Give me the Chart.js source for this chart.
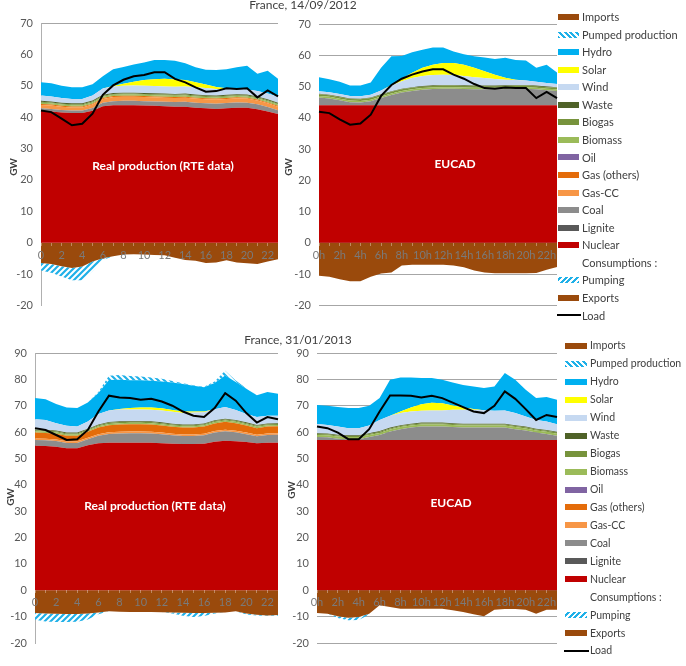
<!DOCTYPE html>
<html>
<head>
<meta charset="utf-8">
<script src="https://cdn.jsdelivr.net/npm/chart.js@4/dist/chart.umd.min.js"></script>
<style>
  body { margin: 0; background: #fff; width: 686px; height: 666px; overflow: hidden; position: relative; font-family: Lato, "Liberation Sans", sans-serif; }
  .box { position: absolute; }
  .title { position: absolute; font-size: 12px; color: #404040; white-space: nowrap; transform: translate(-50%, -50%); }
  .gw { position: absolute; font-size: 10px; font-weight: bold; color: #404040; transform: translate(-50%, -50%) rotate(-90deg); }
  .tag { position: absolute; color: #fff; font-weight: bold; font-size: 12px; white-space: nowrap; transform: translate(-50%, -50%); }
  .leg { position: absolute; color: #404040; white-space: nowrap; }
  .sw { position: absolute; }
</style>
</head>
<body>

<div class="box" style="left:0;top:0"><canvas id="c1" width="285" height="320"></canvas></div>
<div class="box" style="left:285px;top:0"><canvas id="c2" width="275" height="320"></canvas></div>
<div class="box" style="left:0;top:330px"><canvas id="c3" width="285" height="330"></canvas></div>
<div class="box" style="left:285px;top:330px"><canvas id="c4" width="275" height="330"></canvas></div>

<div class="title" style="left:303px;top:4px">France, 14/09/2012</div>
<div class="title" style="left:298px;top:339px">France, 31/01/2013</div>

<div class="gw" style="left:13px;top:167px">GW</div>
<div class="gw" style="left:288px;top:167px">GW</div>
<div class="gw" style="left:10px;top:497px">GW</div>
<div class="gw" style="left:291px;top:490px">GW</div>

<div class="tag" style="left:163px;top:165px">Real production (RTE data)</div>
<div class="tag" style="left:455px;top:163px">EUCAD</div>
<div class="tag" style="left:155px;top:505px">Real production (RTE data)</div>
<div class="tag" style="left:451px;top:502px">EUCAD</div>

<div id="legends"></div>

<script>
/* ================= DATA ================= */
const hoursReal = ["0","1","2","3","4","5","6","7","8","9","10","11","12","13","14","15","16","17","18","19","20","21","22","23"];
const hoursModel = ["0h","1h","2h","3h","4h","5h","6h","7h","8h","9h","10h","11h","12h","13h","14h","15h","16h","17h","18h","19h","20h","21h","22h","23h"];

const noFlow = [0,0,0,0,0,0,0,0,0,0,0,0,0,0,0,0,0,0,0,0,0,0,0,0];

/* France 14/09/2012 - real production (RTE) */
const sepRealNuclear = [42.0,41.8,41.5,41.3,41.3,42.0,43.5,43.8,43.8,43.8,43.7,43.6,43.5,43.3,43.3,43.0,42.8,42.6,42.8,43.0,43.0,42.5,41.8,41.0];
const sepRealCoal    = [0.8,0.8,0.8,0.8,0.8,0.9,1.1,1.3,1.4,1.4,1.4,1.4,1.4,1.5,1.6,1.6,1.6,1.7,1.7,1.7,1.6,1.6,1.4,1.2];
const sepRealGasCC   = [1.1,1.1,1.0,1.0,1.0,1.1,1.2,1.3,1.3,1.3,1.3,1.3,1.3,1.3,1.3,1.3,1.3,1.3,1.3,1.3,1.3,1.2,1.2,1.1];
const sepRealGasOth  = [0.3,0.3,0.3,0.3,0.3,0.3,0.3,0.3,0.3,0.3,0.3,0.3,0.3,0.3,0.3,0.3,0.3,0.3,0.3,0.3,0.3,0.3,0.3,0.3];
const sepRealBiomass = [0.4,0.4,0.4,0.4,0.4,0.4,0.4,0.4,0.4,0.4,0.4,0.4,0.4,0.4,0.4,0.4,0.4,0.4,0.4,0.4,0.4,0.4,0.4,0.4];
const sepRealBiogas  = [0.3,0.3,0.3,0.3,0.3,0.3,0.3,0.3,0.3,0.3,0.3,0.3,0.3,0.3,0.3,0.3,0.3,0.3,0.3,0.3,0.3,0.3,0.3,0.3];
const sepRealWaste   = [0.3,0.3,0.3,0.3,0.3,0.3,0.3,0.3,0.3,0.3,0.3,0.3,0.3,0.3,0.3,0.3,0.3,0.3,0.3,0.3,0.3,0.3,0.3,0.3];
const sepRealWind    = [1.7,1.6,1.5,1.4,1.4,1.6,2.0,2.1,2.2,2.3,2.3,2.3,2.3,2.3,2.3,2.3,2.3,2.1,1.9,1.8,1.6,1.7,1.8,1.9];
const sepRealSolar   = [0,0,0,0,0,0,0,0.1,0.6,1.2,1.8,2.2,2.4,2.3,2.0,1.6,1.1,0.6,0.2,0,0,0,0,0];
const sepRealHydro   = [4.2,4.2,3.9,3.7,3.7,3.6,3.9,5.4,5.4,5.5,5.6,6.1,6.0,6.0,5.4,4.8,4.7,5.4,6.1,6.8,7.6,5.5,7.3,5.7];
const sepRealExports = [-6.5,-6.8,-7.5,-8.1,-7.6,-6.0,-5.0,-4.3,-3.8,-3.7,-3.8,-3.9,-4.0,-4.8,-5.5,-5.8,-6.5,-6.3,-5.6,-6.3,-6.6,-6.8,-6.0,-5.3];
const sepRealPumping = [-2.4,-2.8,-3.3,-3.9,-4.4,-3.2,-0.5,0,0,0,0,0,0,0,0,0,0,0,0,0,0,0,0,0];
const sepRealLoad    = [42.1,41.6,39.5,37.4,37.9,41.1,47.1,50.1,51.9,53.0,53.4,54.3,54.3,52.2,51.1,49.5,48.1,48.3,49.2,49.0,49.2,46.3,48.5,46.6];

/* France 14/09/2012 - EUCAD */
const sepModNuclear = [44,44,44,44,44,44,44,44,44,44,44,44,44,44,44,44,44,44,44,44,44,44,44,44];
const sepModCoal    = [2.5,2.2,1.6,1.0,0.9,1.3,2.3,3.3,4.1,4.6,5.0,5.2,5.3,5.3,5.2,5.1,5.1,5.1,5.2,5.3,5.3,5.1,4.8,4.6];
const sepModBiomass = [0.5,0.5,0.5,0.5,0.5,0.5,0.5,0.5,0.5,0.5,0.5,0.5,0.5,0.5,0.5,0.5,0.5,0.5,0.5,0.5,0.5,0.5,0.5,0.5];
const sepModBiogas  = [0.5,0.5,0.5,0.5,0.5,0.5,0.5,0.5,0.5,0.5,0.5,0.5,0.5,0.5,0.5,0.5,0.5,0.5,0.5,0.5,0.5,0.5,0.5,0.5];
const sepModWaste   = [0.2,0.2,0.2,0.2,0.2,0.2,0.2,0.2,0.2,0.2,0.2,0.2,0.2,0.2,0.2,0.2,0.2,0.2,0.2,0.2,0.2,0.2,0.2,0.2];
const sepModWind    = [0.8,0.8,0.8,0.8,0.8,0.9,1.2,1.8,2.4,2.9,3.2,3.3,3.3,3.2,3.0,2.7,2.4,2.1,1.8,1.6,1.4,1.2,1.1,1.0];
const sepModSolar   = [0,0,0,0,0,0,0,0.2,0.8,1.7,2.6,3.3,3.7,3.8,3.6,3.0,2.2,1.4,0.6,0.1,0,0,0,0];
const sepModHydro   = [4.5,4.1,3.9,3.3,3.4,3.9,7.3,9.2,7.3,6.6,5.8,5.5,5.0,3.7,3.3,3.7,4.4,5.0,6.4,6.3,6.4,4.5,5.9,3.7];
const sepModExports = [-10.5,-10.8,-11.6,-12.3,-12.3,-10.8,-9.8,-9.5,-7.2,-7.0,-7.0,-7.0,-7.0,-7.2,-7.8,-8.8,-9.5,-9.7,-9.7,-9.7,-9.7,-9.6,-8.6,-7.7];
const sepModLoad    = [41.9,41.5,39.5,37.8,38.2,41.0,47.0,50.5,52.5,53.8,54.8,55.5,55.5,53.8,52.5,50.8,49.5,49.3,49.7,49.5,49.5,46.3,48.3,46.3];

/* France 31/01/2013 - real production (RTE) */
const janRealNuclear = [54.8,54.7,54.4,53.9,53.9,55.0,55.8,56.0,56.0,56.0,56.0,56.0,55.8,55.6,55.5,55.5,55.6,56.3,56.7,56.5,56.2,55.8,56.0,56.0];
const janRealCoal    = [2.2,2.2,2.2,2.0,2.0,2.3,2.8,3.3,3.5,3.6,3.6,3.5,3.4,3.2,3.0,3.0,3.2,3.5,3.6,3.4,3.0,2.6,2.9,3.0];
const janRealGasCC   = [0.6,0.6,0.6,0.6,0.6,0.6,0.6,0.6,0.6,0.6,0.6,0.6,0.6,0.6,0.6,0.6,0.6,0.6,0.6,0.6,0.6,0.6,0.6,0.6];
const janRealGasOth  = [2.2,2.2,2.2,2.1,2.1,2.2,2.5,2.7,2.8,2.8,2.8,2.8,2.7,2.6,2.6,2.6,2.7,2.9,3.0,2.9,2.7,2.5,2.6,2.6];
const janRealBiomass = [0.5,0.5,0.5,0.5,0.5,0.5,0.5,0.5,0.5,0.5,0.5,0.5,0.5,0.5,0.5,0.5,0.5,0.5,0.5,0.5,0.5,0.5,0.5,0.5];
const janRealBiogas  = [0.4,0.4,0.4,0.4,0.4,0.4,0.4,0.4,0.4,0.4,0.4,0.4,0.4,0.4,0.4,0.4,0.4,0.4,0.4,0.4,0.4,0.4,0.4,0.4];
const janRealWaste   = [0.3,0.3,0.3,0.3,0.3,0.3,0.3,0.3,0.3,0.3,0.3,0.3,0.3,0.3,0.3,0.3,0.3,0.3,0.3,0.3,0.3,0.3,0.3,0.3];
const janRealWind    = [3.9,3.7,2.8,2.6,2.3,2.7,4.0,4.4,4.5,4.4,4.4,4.4,4.5,4.5,4.3,4.5,4.2,4.2,4.4,3.8,3.2,3.0,2.9,2.8];
const janRealSolar   = [0,0,0,0,0,0,0,0,0.2,0.5,0.7,0.8,0.8,0.7,0.6,0.4,0.3,0,0,0,0,0,0,0];
const janRealHydro   = [8.0,7.9,7.3,6.9,7.0,7.2,7.9,11.6,11.1,10.6,10.4,10.2,10.2,10.4,10.4,9.8,9.2,9.9,12.0,10.6,9.5,8.3,9.0,8.3];
const janRealPumped  = [0,0,0,0,0,0,0.4,1.6,1.8,1.6,1.4,1.2,1.0,0.6,0.3,0.2,0.2,0.6,1.8,0.6,0.2,0,0,0];
const janRealExports = [-8.6,-8.8,-8.9,-9.0,-9.0,-8.8,-8.4,-8.0,-8.1,-8.2,-8.2,-8.2,-8.3,-8.4,-8.5,-8.6,-8.6,-8.5,-8.4,-8.0,-8.8,-9.3,-9.6,-9.4];
const janRealPumping = [-2.6,-3.0,-3.1,-3.0,-2.9,-2.3,-0.7,0,0,0,0,0,0,-0.4,-1.2,-1.5,-1.2,-0.3,0,0,-0.4,-0.3,-0.2,-0.3];
const janRealLoad    = [61.5,60.8,58.9,57.0,57.3,60.8,67.8,73.8,73.1,72.9,72.3,72.6,71.6,70.0,67.8,66.2,65.7,69.1,74.8,71.9,67.2,63.6,65.7,64.9];

/* France 31/01/2013 - EUCAD */
const janModNuclear = [57,57,57,57,57,57,57,57,57,57,57,57,57,57,57,57,57,57,57,57,57,57,57,57];
const janModCoal    = [1.1,1.0,0.5,0.3,0.3,1.1,1.9,3.2,4.1,4.7,5.1,5.1,5.1,4.9,4.7,4.7,4.7,4.7,4.7,4.1,3.6,2.8,2.3,1.6];
const janModBiomass = [0.8,0.8,0.8,0.8,0.8,0.8,0.8,0.8,0.8,0.8,0.8,0.8,0.8,0.8,0.8,0.8,0.8,0.8,0.8,0.8,0.8,0.8,0.8,0.8];
const janModBiogas  = [0.4,0.4,0.4,0.4,0.4,0.4,0.4,0.4,0.4,0.4,0.4,0.4,0.4,0.4,0.4,0.4,0.4,0.4,0.4,0.4,0.4,0.4,0.4,0.4];
const janModWaste   = [0.3,0.3,0.3,0.3,0.3,0.3,0.3,0.3,0.3,0.3,0.3,0.3,0.3,0.3,0.3,0.3,0.3,0.3,0.3,0.3,0.3,0.3,0.3,0.3];
const janModWind    = [3.5,3.2,3.1,2.7,2.7,2.9,4.2,4.5,4.6,4.6,4.5,4.6,4.6,5.1,5.3,5.3,5.1,4.9,5.0,4.6,3.8,3.3,3.2,2.9];
const janModSolar   = [0,0,0,0,0,0,0,0,0.6,1.5,2.5,2.9,2.7,1.6,0.8,0.3,0,0,0,0,0,0,0,0];
const janModHydro   = [7.2,7.3,7.4,7.6,7.6,7.5,8.3,13.7,12.9,11.4,9.9,9.4,9.0,8.7,8.6,8.5,8.4,9.2,14.2,12.7,10.2,8.3,9.3,9.3];
const janModExports = [-8.6,-8.9,-9.9,-10.4,-10.1,-8.9,-5.7,-6.3,-7.0,-7.0,-7.0,-7.0,-7.0,-7.6,-8.2,-9.1,-9.9,-7.4,-7.1,-7.1,-7.4,-8.9,-7.4,-7.4];
const janModPumping = [0,0,-0.6,-1.0,-1.2,-0.3,0,0,0,0,0,0,0,0,0,0,0,0,0,0,0,0,0,0];
const janModLoad    = [62.1,61.5,59.8,57.3,57.3,61.1,67.8,73.9,73.9,73.8,73.1,73.8,72.9,71.2,69.5,67.8,67.2,70.0,75.4,72.6,68.7,64.6,66.5,65.7];

/* ================= STYLES ================= */
const HATCH = "#1fb0e8";

function hatch(back) {
  const c = document.createElement("canvas");
  c.width = 6; c.height = 6;
  const g = c.getContext("2d");
  g.fillStyle = "#fff";
  g.fillRect(0, 0, 6, 6);
  g.strokeStyle = HATCH;
  g.lineWidth = 2.2;
  g.beginPath();
  if (back) {
    g.moveTo(0, 0); g.lineTo(6, 6);
    g.moveTo(-3, 3); g.lineTo(3, 9);
    g.moveTo(3, -3); g.lineTo(9, 3);
  } else {
    g.moveTo(0, 6); g.lineTo(6, 0);
    g.moveTo(-3, 3); g.lineTo(3, -3);
    g.moveTo(3, 9); g.lineTo(9, 3);
  }
  g.stroke();
  return g.createPattern(c, "repeat");
}

// production layers, bottom of the stack first
const layers = [
  { key: "nuclear", name: "Nuclear", color: "#c00000" },
  { key: "lignite", name: "Lignite", color: "#595959" },
  { key: "coal", name: "Coal", color: "#8c8c8c" },
  { key: "gasCC", name: "Gas-CC", color: "#f79646" },
  { key: "gasOth", name: "Gas (others)", color: "#e46c0a" },
  { key: "oil", name: "Oil", color: "#8064a2" },
  { key: "biomass", name: "Biomass", color: "#9bbb59" },
  { key: "biogas", name: "Biogas", color: "#77933c" },
  { key: "waste", name: "Waste", color: "#4f6228" },
  { key: "wind", name: "Wind", color: "#c6d9f1" },
  { key: "solar", name: "Solar", color: "#ffff00" },
  { key: "hydro", name: "Hydro", color: "#00b0f0" },
  { key: "pumped", name: "Pumped production", color: hatch(true) },
  { key: "imports", name: "Imports", color: "#9a4a0c" }
];

/* ================= CHARTS ================= */
function buildChart(id, labels, panel, yMax, axisW, pad, fullGrid) {
  const datasets = layers.map((l, i) => ({
    label: l.name,
    data: panel[l.key],
    backgroundColor: l.color,
    borderWidth: 0,
    pointRadius: 0,
    tension: 0,
    fill: i === 0 ? "origin" : "-1",
    stack: "prod"
  }));
  datasets.push({
    label: "Exports", data: panel.exports, backgroundColor: "#9a4a0c",
    borderWidth: 0, pointRadius: 0, tension: 0, fill: "origin", stack: "cons"
  });
  datasets.push({
    label: "Pumping", data: panel.pumping, backgroundColor: hatch(false),
    borderWidth: 0, pointRadius: 0, tension: 0, fill: "-1", stack: "cons"
  });
  datasets.push({
    label: "Load", data: panel.load, borderColor: "#000", borderWidth: 2,
    pointRadius: 0, tension: 0, fill: false, stack: "load", order: -1
  });

  new Chart(document.getElementById(id), {
    type: "line",
    data: { labels: labels, datasets: datasets },
    options: {
      responsive: false,
      animation: false,
      devicePixelRatio: 1,
      layout: { padding: pad },
      plugins: { legend: { display: false }, tooltip: { enabled: false } },
      scales: {
        x: {
          position: { y: 0 },
          offset: false,
          border: { display: false },
          grid: { z: 1, drawOnChartArea: false, drawTicks: true, tickLength: 3, color: "rgba(255,255,255,0.35)" },
          ticks: {
            z: 1,
            autoSkip: false, maxRotation: 0, padding: 3,
            color: "#7a7a7a", font: { size: 11 },
            callback: (v, i) => (i % 2 ? "" : labels[i])
          }
        },
        y: {
          stacked: true,
          min: -20, max: yMax,
          afterFit: s => { s.width = axisW; },
          border: { display: !fullGrid, color: "#b0b0b0" },
          grid: {
            drawTicks: false,
            color: c => (fullGrid || c.tick.value === yMax ? "#a6a6a6" : "transparent")
          },
          ticks: { stepSize: 10, padding: 8, color: "#595959", font: { size: 11 } }
        }
      }
    }
  });
}

Chart.defaults.font.family = "Lato, 'Liberation Sans', sans-serif";

buildChart("c1", hoursReal, {
  nuclear: sepRealNuclear, lignite: noFlow, coal: sepRealCoal, gasCC: sepRealGasCC, gasOth: sepRealGasOth,
  oil: noFlow, biomass: sepRealBiomass, biogas: sepRealBiogas, waste: sepRealWaste, wind: sepRealWind,
  solar: sepRealSolar, hydro: sepRealHydro, pumped: noFlow, imports: noFlow,
  exports: sepRealExports, pumping: sepRealPumping, load: sepRealLoad
}, 70, 41, { top: 23, right: 7, bottom: 13, left: 0 }, false);

buildChart("c2", hoursModel, {
  nuclear: sepModNuclear, lignite: noFlow, coal: sepModCoal, gasCC: noFlow, gasOth: noFlow,
  oil: noFlow, biomass: sepModBiomass, biogas: sepModBiogas, waste: sepModWaste, wind: sepModWind,
  solar: sepModSolar, hydro: sepModHydro, pumped: noFlow, imports: noFlow,
  exports: sepModExports, pumping: noFlow, load: sepModLoad
}, 70, 34, { top: 24, right: 2, bottom: 11, left: 0 }, true);

buildChart("c3", hoursReal, {
  nuclear: janRealNuclear, lignite: noFlow, coal: janRealCoal, gasCC: janRealGasCC, gasOth: janRealGasOth,
  oil: noFlow, biomass: janRealBiomass, biogas: janRealBiogas, waste: janRealWaste, wind: janRealWind,
  solar: janRealSolar, hydro: janRealHydro, pumped: janRealPumped, imports: noFlow,
  exports: janRealExports, pumping: janRealPumping, load: janRealLoad
}, 90, 35, { top: 23, right: 7, bottom: 17, left: 0 }, false);

buildChart("c4", hoursModel, {
  nuclear: janModNuclear, lignite: noFlow, coal: janModCoal, gasCC: noFlow, gasOth: noFlow,
  oil: noFlow, biomass: janModBiomass, biogas: janModBiogas, waste: janModWaste, wind: janModWind,
  solar: janModSolar, hydro: janModHydro, pumped: noFlow, imports: noFlow,
  exports: janModExports, pumping: janModPumping, load: janModLoad
}, 90, 32, { top: 23, right: 2, bottom: 17, left: 0 }, true);

/* ================= LEGENDS ================= */
const legendItems = [
  ["Imports", "#9a4a0c"],
  ["Pumped production", "hatchB"],
  ["Hydro", "#00b0f0"],
  ["Solar", "#ffff00"],
  ["Wind", "#c6d9f1"],
  ["Waste", "#4f6228"],
  ["Biogas", "#77933c"],
  ["Biomass", "#9bbb59"],
  ["Oil", "#8064a2"],
  ["Gas (others)", "#e46c0a"],
  ["Gas-CC", "#f79646"],
  ["Coal", "#8c8c8c"],
  ["Lignite", "#595959"],
  ["Nuclear", "#c00000"],
  ["Consumptions :", null],
  ["Pumping", "hatchF"],
  ["Exports", "#9a4a0c"],
  ["Load", "line"]
];

function drawLegend(x0, y0, step, swW, font) {
  const host = document.getElementById("legends");
  legendItems.forEach((item, i) => {
    const y = y0 + i * step;
    const kind = item[1];
    if (kind) {
      const sw = document.createElement("div");
      sw.className = "sw";
      if (kind === "line") {
        sw.style.cssText = `left:${x0 - 1}px;top:${y - 1}px;width:${swW + 3}px;height:2px;background:#000`;
      } else {
        let bg = kind;
        if (kind === "hatchB") bg = `repeating-linear-gradient(45deg, ${HATCH} 0 2px, #fff 2px 4px)`;
        if (kind === "hatchF") bg = `repeating-linear-gradient(-45deg, ${HATCH} 0 2px, #fff 2px 4px)`;
        sw.style.cssText = `left:${x0}px;top:${y - 3}px;width:${swW}px;height:6px;background:${bg}`;
      }
      host.appendChild(sw);
    }
    const t = document.createElement("div");
    t.className = "leg";
    t.textContent = item[0];
    t.style.cssText = `left:${x0 + swW + 3}px;top:${y - font * 0.62}px;font-size:${font}px`;
    host.appendChild(t);
  });
}

drawLegend(558, 17, 17.55, 21, 11);
drawLegend(565, 346, 17.94, 22, 10.5);
</script>
</body>
</html>
